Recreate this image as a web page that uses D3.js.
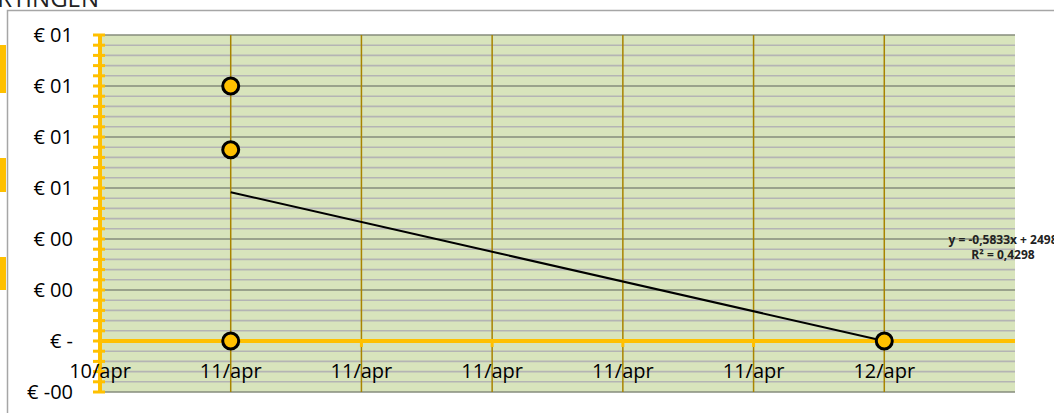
<!DOCTYPE html>
<html>
<head>
<meta charset="utf-8">
<script src="https://cdn.jsdelivr.net/npm/d3@7"></script>
<style>
  body { margin: 0; background: #fff; overflow: hidden; }
  svg { display: block; font-family: "Open Sans", sans-serif; }
</style>
</head>
<body>
<svg id="chart" width="1054" height="413"></svg>
<script>
// data
var pointDates = [new Date(2024, 3, 11), new Date(2024, 3, 11), new Date(2024, 3, 11), new Date(2024, 3, 12)];
var pointValues = [0.01, 0.0075, 0, 0];

var yTickValues = [-0.002, 0, 0.002, 0.004, 0.006, 0.008, 0.010, 0.012];
var yTickLabels = ["€ -00", "€ -", "€ 00", "€ 00", "€ 01", "€ 01", "€ 01", "€ 01"];
var xTickLabels = ["10/apr", "11/apr", "11/apr", "11/apr", "11/apr", "11/apr", "12/apr"];
var trendText = ["y = -0,5833x + 2498", "R² = 0,4298"];
var titleText = "KORTINGEN";

var svg = d3.select("#chart");
var width = 1054, height = 413;
var margin = { left: 100, right: 39, top: 35, bottom: 21 };

var xStart = new Date(2024, 3, 10, 19, 12);
var xEnd = new Date(2024, 3, 12, 4, 48);
var xScale = d3.scaleTime()
    .domain([xStart, xEnd])
    .range([margin.left, width - margin.right]);

var yScale = d3.scaleLinear()
    .domain([-0.002, 0.012])
    .range([height - margin.bottom, margin.top]);

var orange = "#FFC000";

// bits of things outside the chart
[[45, 93], [158, 192], [257, 290]].forEach(function (r) {
    svg.append("rect").attr("x", 0).attr("y", r[0]).attr("width", 6).attr("height", r[1] - r[0]).attr("fill", orange);
});

// title (cut off at the top)
svg.append("text")
    .attr("x", 99).attr("y", 7)
    .attr("text-anchor", "end")
    .attr("font-size", "24px")
    .attr("fill", "#222")
    .text(titleText);

// chart border
svg.append("rect")
    .attr("x", 7.5).attr("y", 10.5)
    .attr("width", 1100).attr("height", 500)
    .attr("fill", "none")
    .attr("stroke", "#a6a6a6")
    .attr("stroke-width", 1.5);

// plot area
var x0 = xScale.range()[0], x1 = xScale.range()[1];
var yTop = yScale.range()[1], yBot = yScale.range()[0];
svg.append("rect")
    .attr("x", x0).attr("y", yTop)
    .attr("width", x1 - x0).attr("height", yBot - yTop)
    .attr("fill", "#D8E4BC");

// minor gridlines
var minorTicks = d3.range(-0.002, 0.01201, 0.0004).filter(function (v) {
    return Math.abs(Math.round(v / 0.002) * 0.002 - v) > 1e-7;
});
svg.selectAll("line.minor")
    .data(minorTicks)
    .enter().append("line")
    .attr("class", "minor")
    .attr("x1", x0).attr("x2", x1)
    .attr("y1", d => yScale(d)).attr("y2", d => yScale(d))
    .attr("stroke", "#b4b4b4")
    .attr("stroke-width", 1.6);

// major gridlines
svg.selectAll("line.major")
    .data(yTickValues)
    .enter().append("line")
    .attr("class", "major")
    .attr("x1", x0).attr("x2", x1)
    .attr("y1", d => yScale(d)).attr("y2", d => yScale(d))
    .attr("stroke", "#868c7c")
    .attr("stroke-width", 1.6);

// vertical gridlines
var xTicks = d3.range(7).map(function (i) { return new Date(xStart.getTime() + i * 4.8 * 3600 * 1000); });
svg.selectAll("line.vgrid")
    .data(xTicks.slice(1))
    .enter().append("line")
    .attr("class", "vgrid")
    .attr("x1", d => xScale(d)).attr("x2", d => xScale(d))
    .attr("y1", yTop).attr("y2", yBot)
    .attr("stroke", "#A88400")
    .attr("stroke-width", 1.5);

// x axis line at zero
var y0 = yScale(0);
svg.append("line")
    .attr("x1", x0).attr("x2", x1)
    .attr("y1", y0).attr("y2", y0)
    .attr("stroke", orange)
    .attr("stroke-width", 4);
svg.selectAll("line.xtick")
    .data(xTicks.slice(1))
    .enter().append("line")
    .attr("class", "xtick")
    .attr("x1", d => xScale(d)).attr("x2", d => xScale(d))
    .attr("y1", y0).attr("y2", y0 + 6)
    .attr("stroke", orange)
    .attr("stroke-width", 3);

// y axis line with ticks
svg.append("line")
    .attr("x1", x0).attr("x2", x0)
    .attr("y1", yTop).attr("y2", yBot)
    .attr("stroke", orange)
    .attr("stroke-width", 4);
svg.selectAll("line.ytick")
    .data(minorTicks.concat(yTickValues))
    .enter().append("line")
    .attr("class", "ytick")
    .attr("x1", x0 - 7).attr("x2", x0 + 5)
    .attr("y1", d => yScale(d)).attr("y2", d => yScale(d))
    .attr("stroke", orange)
    .attr("stroke-width", 3);

// y tick labels
svg.selectAll("text.ylab")
    .data(yTickValues)
    .enter().append("text")
    .attr("class", "ylab")
    .attr("x", 73)
    .attr("y", d => yScale(d) + 7)
    .attr("text-anchor", "end")
    .attr("font-size", "20px")
    .attr("fill", "#000")
    .text((d, i) => yTickLabels[i]);

// x tick labels
svg.selectAll("text.xlab")
    .data(xTicks)
    .enter().append("text")
    .attr("class", "xlab")
    .attr("x", d => xScale(d))
    .attr("y", y0 + 37)
    .attr("text-anchor", "middle")
    .attr("font-size", "20px")
    .attr("fill", "#000")
    .text((d, i) => xTickLabels[i]);

// linear trendline (least squares on the points)
var day = 24 * 3600 * 1000;
var xs = pointDates.map(d => d.getTime() / day);
var mx = d3.mean(xs), my = d3.mean(pointValues);
var sxy = d3.sum(xs, (x, i) => (x - mx) * (pointValues[i] - my));
var sxx = d3.sum(xs, x => (x - mx) * (x - mx));
var slope = sxy / sxx, intercept = my - slope * mx;
var xMin = d3.min(pointDates), xMax = d3.max(pointDates);
svg.append("line")
    .attr("x1", xScale(xMin)).attr("x2", xScale(xMax))
    .attr("y1", yScale(slope * xMin.getTime() / day + intercept))
    .attr("y2", yScale(slope * xMax.getTime() / day + intercept))
    .attr("stroke", "#000")
    .attr("stroke-width", 2);

// points
svg.selectAll("circle.pt")
    .data(pointValues)
    .enter().append("circle")
    .attr("class", "pt")
    .attr("cx", (d, i) => xScale(pointDates[i]))
    .attr("cy", d => yScale(d))
    .attr("r", 8)
    .attr("fill", orange)
    .attr("stroke", "#000")
    .attr("stroke-width", 3);

// trendline label
svg.selectAll("text.trend")
    .data(trendText)
    .enter().append("text")
    .attr("class", "trend")
    .attr("x", 1003)
    .attr("y", (d, i) => 244 + i * 15)
    .attr("text-anchor", "middle")
    .attr("font-size", "12px")
    .attr("font-weight", "bold")
    .attr("fill", "#222")
    .text(d => d);
</script>
</body>
</html>
